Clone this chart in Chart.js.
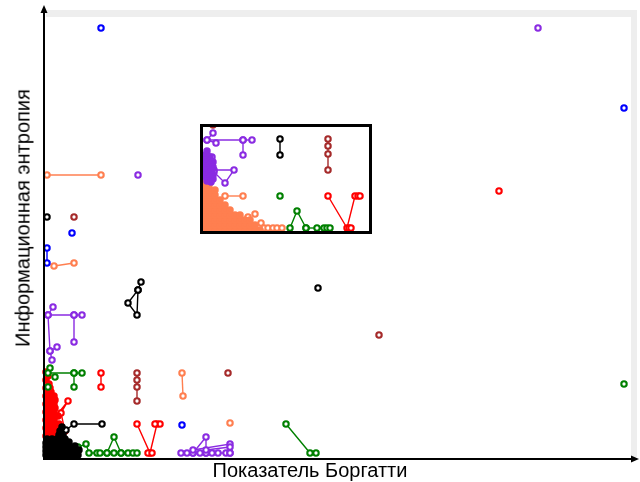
<!DOCTYPE html>
<html><head><meta charset="utf-8">
<script src="https://cdn.jsdelivr.net/npm/chart.js@4"></script>
<style>
html,body{margin:0;padding:0;background:#fff}
body{width:640px;height:482px;overflow:hidden;position:relative;font-family:'Liberation Sans',Arial,sans-serif}
#main{position:absolute;left:0;top:0}
#insetBox{position:absolute;left:200px;top:124px;width:166px;height:104px;border:3px solid #000;background:#fff}
#inset{display:block}
#xt{position:absolute;left:310px;top:459px;transform:translateX(-50%);font-size:20px;white-space:nowrap;color:#000}
#yt{position:absolute;left:22.5px;top:218px;transform:translate(-50%,-50%) rotate(-90deg);font-size:20px;white-space:nowrap;color:#000}
</style></head>
<body>
<canvas id="main" width="640" height="482"></canvas>
<div id="insetBox"><canvas id="inset" width="166" height="104"></canvas></div>
<div id="xt">Показатель Боргатти</div>
<div id="yt">Информационная энтропия</div>
<script>
// ---- main chart data (x: Borgatti index, y: information entropy; arbitrary units) ----
const blueDots = [[57,430],[580,350],[28,225],[138,33]];
const bluePaths = [[[3,210],[3,195]]];

const purpleDots = [[494,430],[94,283]];
const purplePaths = [
  [[9,151],[4,143],[30,143],[38,143]],
  [[30,143],[30,116]],
  [[4,143],[6,107],[8,98]],
  [[6,107],[13,111]],
  [[137,5],[143,5],[149,5],[156,5],[162,5],[168,5],[174,5],[182,5],[186,5]],
  [[149,5],[162,21],[162,5]],
  [[149,8],[186,14],[186,5]],
  [[162,8],[186,11]]
];

const redDots = [[455,267],[9,56],[104,5],[108,5],[111,34]];
const redPaths = [
  [[57,85],[57,71]],
  [[93,34],[106,5],[113,34],[116,34]],
  [[9,38],[24,57],[17,45],[21,27],[14,18]]
];
const redMass = [[2,86],[4,82],[2,78],[5,74],[2,70],[6,70],[3,66],[7,66],[2,62],[6,62],[10,62],
  [3,58],[7,58],[11,58],[2,54],[6,54],[10,54],[3,50],[7,50],[11,50],[2,46],[6,46],[10,46],
  [3,42],[7,42],[11,42],[14,42],[2,38],[6,38],[10,38],[3,34],[7,34],[11,34],[15,34],
  [2,30],[6,30],[10,30],[14,30],[3,26],[7,26],[11,26],[2,22],[6,22],[10,22],[14,22],[3,18],[8,18]];

const brownDots = [[30,241],[335,123],[184,85]];
const brownPaths = [[[93,85],[93,78],[93,71],[93,57]]];

const blackDots = [[3,241],[274,170]];
const blackPaths = [
  [[97,176],[94,168],[84,155],[93,143],[94,168]],
  [[22,28],[30,34],[58,34]]
];
const blackMass = [[2,3],[6,3],[10,3],[14,3],[18,3],[22,3],[26,3],[30,3],[34,3],
  [2,7],[6,7],[10,7],[14,7],[18,7],[22,7],[26,7],[30,7],[35,8],
  [2,11],[6,11],[10,11],[14,11],[18,11],[22,11],[26,11],[31,12],
  [2,15],[6,15],[10,15],[14,15],[18,15],[22,15],[25,16],
  [3,19],[8,19],[13,19],[17,19],[21,19],[15,23],[19,23],[16,27],[18,31]];

const coralDots = [[186,35]];
const coralPaths = [[[3,283],[57,283]],[[10,192],[30,195]],[[138,85],[139,62]]];

const greenDots = [[580,74],[11,81],[4,71]];
const greenPaths = [
  [[6,90],[4,85],[30,85],[38,85]],
  [[30,85],[30,71]],
  [[242,34],[266,5],[272,5]],
  [[21,5],[28,5],[34,11],[42,14],[45,5],[53,5],[56,5],[63,5],[70,5],[77,5],[84,5],[89,5],[93,5]],
  [[63,5],[70,21],[77,5]]
];

// ---- inset (zoomed lower-left region) data ----
const insetBrownDots = [[10,106]];
const insetBrownPaths = [[[125,92],[125,85],[125,77],[125,61]]];
const insetBlackPaths = [[[77,92],[77,76]]];
const insetPurpleDots = [[4,76],[9,74]];
const insetPurplePaths = [
  [[4,91],[40,91],[49,91]],
  [[40,91],[40,76]],
  [[10,98],[4,91],[13,88]],
  [[11,61],[31,61],[22,48],[11,59]]
];
const insetPurpleMass = [[4,80],[2,76],[7,74],[3,71],[7,70],[10,69],[3,67],[7,66],[10,64],[3,63],
  [6,61],[9,60],[2,58],[6,57],[10,56],[3,54],[7,53],[10,52],[4,50],[8,49]];
const insetGreenDots = [[77,35]];
const insetGreenPaths = [[[87,3],[94,20],[103,3]],[[103,3],[114,3],[121,3],[124,3],[127,3]]];
const insetRedDots = [[146,3],[148,3]];
const insetRedPaths = [[[125,35],[144,3],[152,35],[155,35],[157,35]]];
const insetCoralDots = [[52,17],[45,14],[58,8],[61,3],[65,3],[70,3],[74,3],[79,3]];
const insetCoralPaths = [[[22,35],[40,35]]];
const insetCoralMass = [
  [2,1],[7,1],[12,1],[17,1],[22,1],[27,1],[32,1],[37,1],[42,1],[47,1],[52,1],[57,1],
  [2,6],[7,6],[12,6],[17,6],[22,6],[27,6],[32,6],[37,6],[42,6],[47,6],[52,6],
  [2,11],[7,11],[12,11],[17,11],[22,11],[27,11],[32,11],[37,11],[42,11],[47,11],
  [2,16],[7,16],[12,16],[17,16],[22,16],[27,16],[32,16],[37,16],
  [2,21],[7,21],[12,21],[17,21],[22,21],[27,21],
  [2,26],[7,26],[12,26],[17,26],[22,26],
  [2,31],[7,31],[12,31],[17,31],
  [2,36],[7,36],[12,36],
  [2,41],[7,41],[12,41],
  [2,46],[6,46],[2,51]];

const C = {blue:'#0000ff',purple:'#8a2be2',red:'#ff0000',brown:'#a52a2a',coral:'#ff7f50',green:'#008000',black:'#000000'};

function toXY(pts){return pts.map(p=>({x:p[0],y:p[1]}));}
function dotsDS(pts,color,filled){
  return {data:toXY(pts),showLine:false,pointRadius:2.7,pointBorderWidth:2.1,
    pointBorderColor:color,pointBackgroundColor:filled?color:'#ffffff',clip:false};
}
function pathDS(pts,color){
  return {data:toXY(pts),showLine:true,borderColor:color,borderWidth:1.4,pointRadius:2.7,pointBorderWidth:2.1,
    pointBorderColor:color,pointBackgroundColor:'#ffffff',clip:false};
}
function build(groups){
  const ds=[];
  groups.forEach(g=>{
    (g.paths||[]).forEach(p=>ds.push(pathDS(p,g.color)));
    if(g.dots) ds.push(dotsDS(g.dots,g.color,false));
    if(g.mass) ds.push(dotsDS(g.mass,g.color,true));
  });
  return ds;
}

const mainDatasets = build([
  {color:C.coral,paths:coralPaths,dots:coralDots},
  {color:C.red,paths:redPaths,dots:redDots,mass:redMass},
  {color:C.green,paths:greenPaths,dots:greenDots},
  {color:C.brown,paths:brownPaths,dots:brownDots},
  {color:C.purple,paths:purplePaths,dots:purpleDots},
  {color:C.blue,paths:bluePaths,dots:blueDots},
  {color:C.black,paths:blackPaths,dots:blackDots,mass:blackMass}
]).reverse();

const framePlugin = {
  id:'frame',
  beforeDatasetsDraw(chart){
    const c=chart.ctx; c.save(); c.fillStyle='#eeeeee';
    c.fillRect(46,10,591,7);
    c.fillRect(631,10,6,447);
    c.restore();
  },
  afterDatasetsDraw(chart){
    const c=chart.ctx; c.save(); c.strokeStyle='#000'; c.fillStyle='#000'; c.lineWidth=2;
    c.beginPath(); c.moveTo(44,460); c.lineTo(44,12); c.stroke();
    c.beginPath(); c.moveTo(44,5); c.lineTo(40.5,13); c.lineTo(47.5,13); c.closePath(); c.fill();
    c.beginPath(); c.moveTo(43,459); c.lineTo(632,459); c.stroke();
    c.beginPath(); c.moveTo(639,459); c.lineTo(631,455.5); c.lineTo(631,462.5); c.closePath(); c.fill();
    c.restore();
  }
};

new Chart(document.getElementById('main'),{
  type:'scatter',
  data:{datasets:mainDatasets},
  options:{responsive:false,animation:false,events:[],
    layout:{autoPadding:false,padding:{left:44,right:10,top:17,bottom:24}},
    plugins:{legend:{display:false},tooltip:{enabled:false}},
    scales:{x:{type:'linear',min:0,max:586,display:false},y:{type:'linear',min:0,max:441,display:false}}
  },
  plugins:[framePlugin]
});

const insetDatasets = build([
  {color:C.coral,paths:insetCoralPaths,dots:insetCoralDots,mass:insetCoralMass},
  {color:C.green,paths:insetGreenPaths,dots:insetGreenDots},
  {color:C.red,paths:insetRedPaths,dots:insetRedDots},
  {color:C.brown,paths:insetBrownPaths,dots:insetBrownDots},
  {color:C.black,paths:insetBlackPaths},
  {color:C.purple,paths:insetPurplePaths,dots:insetPurpleDots,mass:insetPurpleMass}
]).reverse();

new Chart(document.getElementById('inset'),{
  type:'scatter',
  data:{datasets:insetDatasets},
  options:{responsive:false,animation:false,events:[],
    layout:{autoPadding:false,padding:0},
    plugins:{legend:{display:false},tooltip:{enabled:false}},
    scales:{x:{type:'linear',min:0,max:166,display:false},y:{type:'linear',min:0,max:104,display:false}}
  }
});
</script>
</body></html>
